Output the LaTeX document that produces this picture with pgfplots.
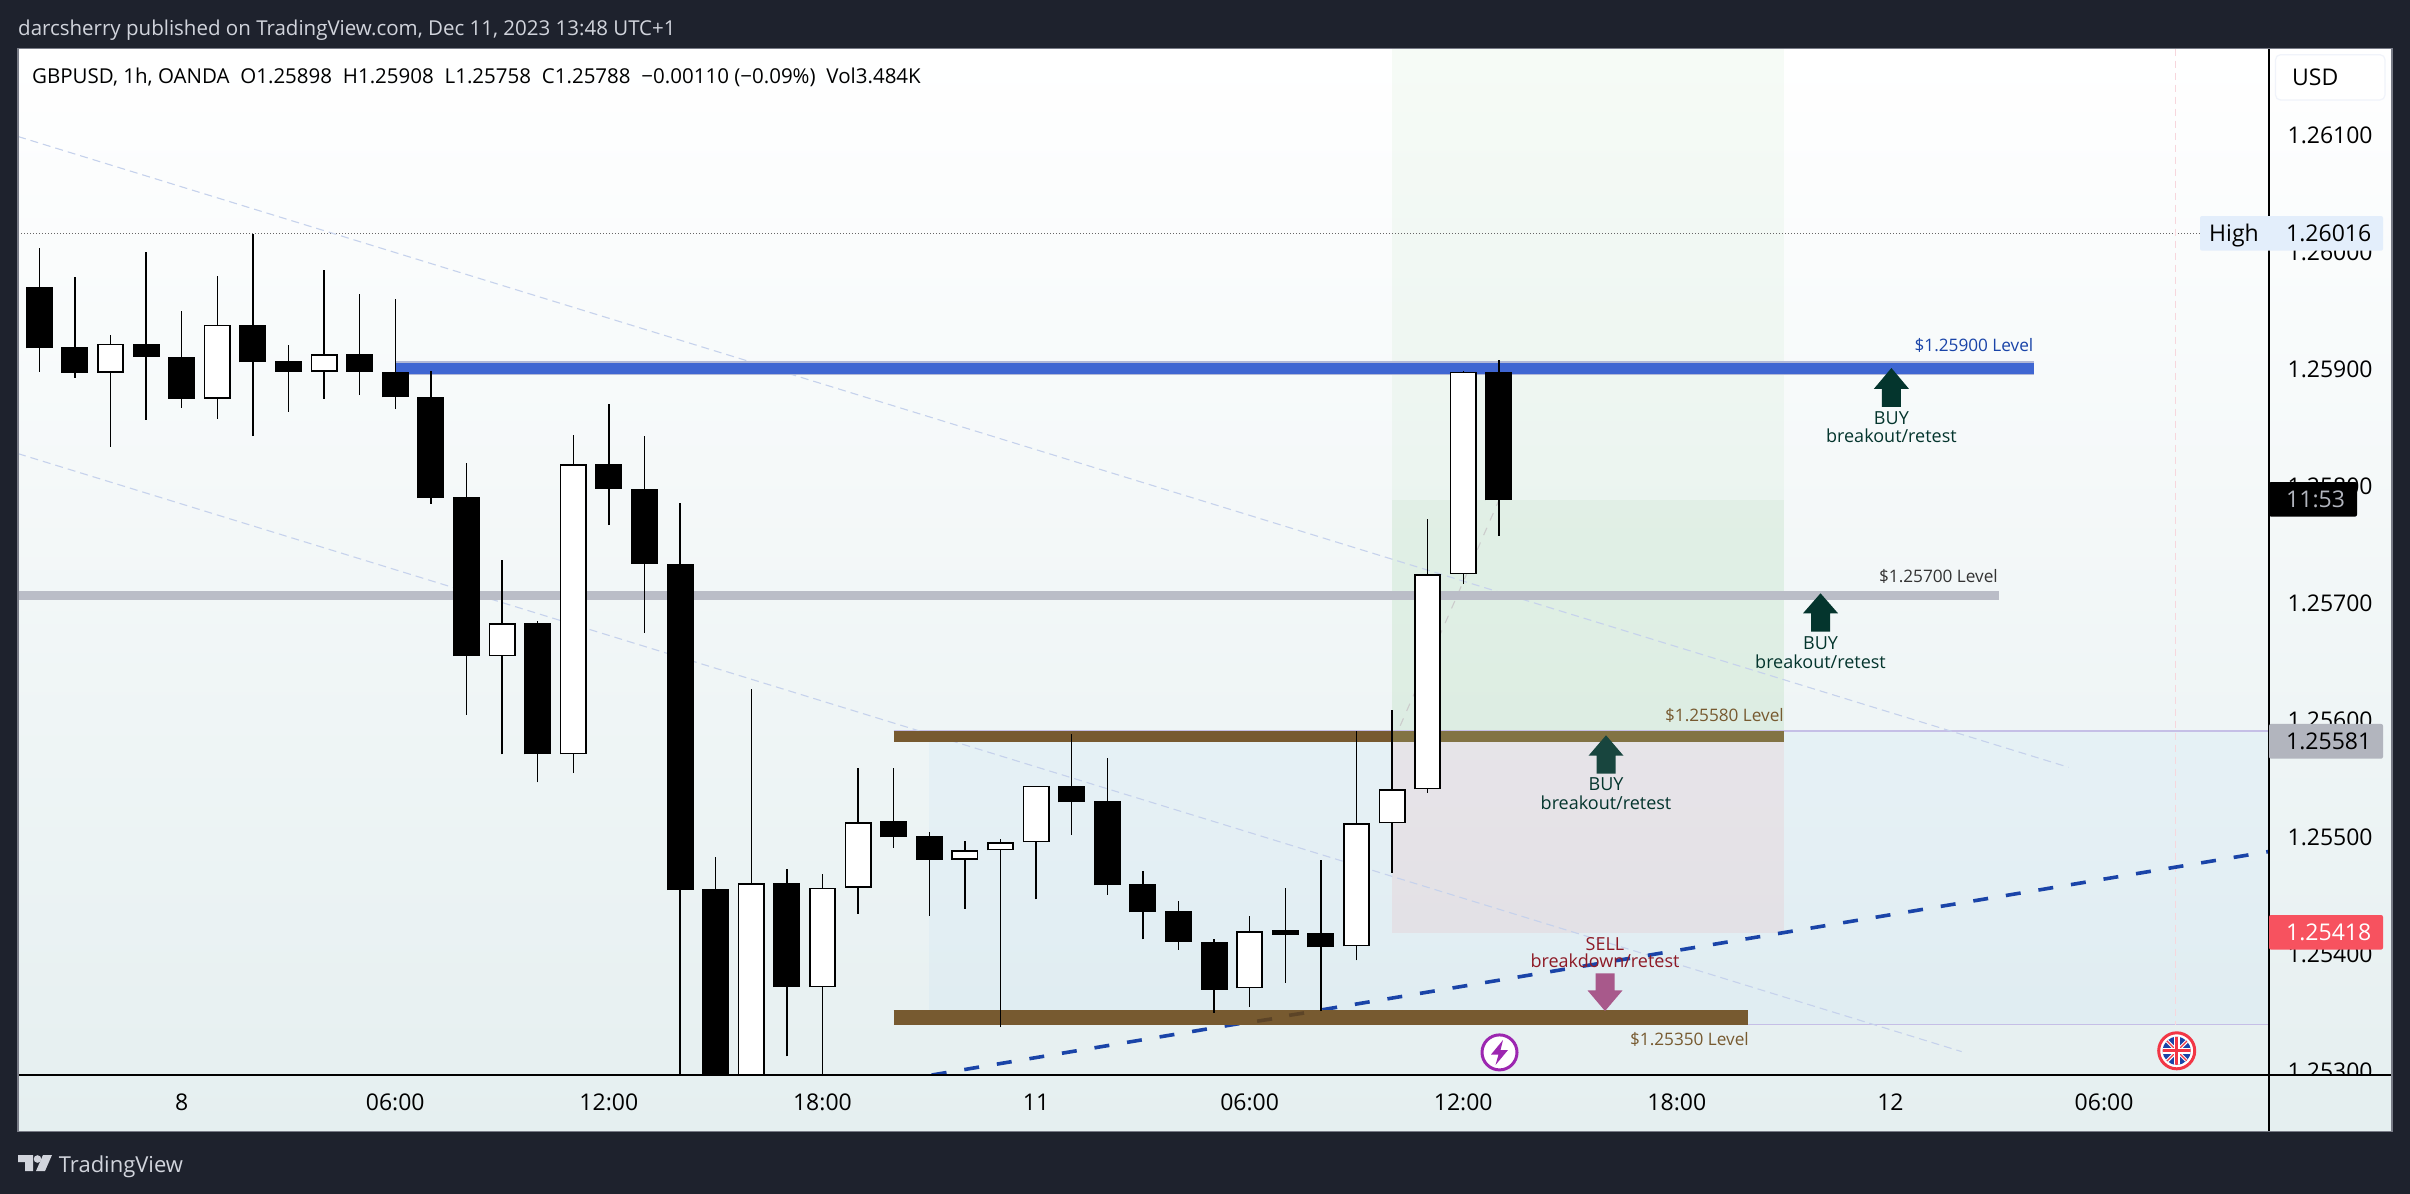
\documentclass[border=0pt]{standalone}
\usepackage{fontspec}
\setmainfont{Open Sans}
\usepackage{pgfplots}
\usepackage{pgfplotstable}
\pgfplotsset{compat=1.18}

\definecolor{darkbg}{HTML}{1E222D}
\definecolor{framec}{HTML}{787B86}
\definecolor{txtlight}{HTML}{D1D4DC}
\definecolor{bluelvl}{HTML}{3F66D2}
\definecolor{blueedge}{HTML}{B2B8D6}
\definecolor{greylvl}{HTML}{BABDC7}
\definecolor{brownlvl}{HTML}{775A30}
\definecolor{browndark}{HTML}{5C4427}
\definecolor{olivelvl}{HTML}{827344}
\definecolor{trend}{HTML}{C6D2EC}
\definecolor{dashblue}{HTML}{1A44A8}
\definecolor{buyc}{HTML}{04352D}
\definecolor{sellc}{HTML}{A8598B}
\definecolor{sellt}{HTML}{8E1A26}
\definecolor{purplec}{HTML}{9C27B0}
\definecolor{flagred}{HTML}{F23645}
\definecolor{flagblue}{HTML}{1A44A8}
\definecolor{bgbottom}{HTML}{E5EFF0}
\definecolor{rangeblue}{HTML}{2196FF}
\definecolor{rangeedge}{HTML}{C5BFE6}
\definecolor{eventline}{HTML}{F7D6DC}
\definecolor{usdedge}{HTML}{F0F3FA}
\definecolor{hightag}{HTML}{E3EEFB}
\definecolor{greytag}{HTML}{B2B5BE}
\definecolor{redtag}{HTML}{F7525F}

% bearish candles: hour index, open, high, low, close
\pgfplotstableread{
x o h l c
-4 1.25970 1.26004 1.25898 1.25918
-3 1.25919 1.25979 1.25893 1.25897
-1 1.25922 1.26000 1.25857 1.25911
0 1.25911 1.25950 1.25867 1.25875
2 1.25938 1.26016 1.25843 1.25906
3 1.25907 1.25921 1.25864 1.25898
5 1.25913 1.25964 1.25878 1.25898
6 1.25898 1.25960 1.25866 1.25876
7 1.25876 1.25899 1.25785 1.25790
8 1.25791 1.25820 1.25605 1.25655
10 1.25683 1.25685 1.25547 1.25571
12 1.25819 1.25870 1.25767 1.25798
13 1.25798 1.25843 1.25675 1.25734
14 1.25734 1.25786 1.25230 1.25455
15 1.25456 1.25483 1.25260 1.25280
17 1.25461 1.25473 1.25313 1.25372
20 1.25514 1.25559 1.25491 1.25500
21 1.25501 1.25505 1.25433 1.25481
25 1.25544 1.25588 1.25502 1.25530
26 1.25531 1.25568 1.25451 1.25459
27 1.25460 1.25471 1.25413 1.25436
28 1.25437 1.25446 1.25404 1.25411
29 1.25411 1.25413 1.25350 1.25370
31 1.25421 1.25457 1.25376 1.25417
32 1.25418 1.25481 1.25352 1.25406
37 1.25898 1.25908 1.25758 1.25788
}\bears

% bullish candles
\pgfplotstableread{
x o h l c
-2 1.25897 1.25929 1.25834 1.25922
1 1.25875 1.25980 1.25858 1.25938
4 1.25898 1.25985 1.25875 1.25913
9 1.25655 1.25737 1.25571 1.25683
11 1.25571 1.25844 1.25555 1.25819
16 1.25280 1.25627 1.25250 1.25461
18 1.25372 1.25469 1.25280 1.25457
19 1.25457 1.25559 1.25435 1.25513
22 1.25481 1.25497 1.25439 1.25489
23 1.25489 1.25499 1.25338 1.25496
24 1.25496 1.25544 1.25447 1.25544
30 1.25371 1.25433 1.25355 1.25420
33 1.25407 1.25591 1.25395 1.25512
34 1.25512 1.25609 1.25470 1.25541
35 1.25541 1.25772 1.25538 1.25725
36 1.25725 1.25899 1.25717 1.25898
}\bulls

\pgfplotsset{
  candlepart/.style 2 args={draw=none, mark=none, forget plot,
    error bars/.cd, y dir=plus, y explicit, error mark=none,
    error bar style={draw=#1, solid, line width=#2}},
  level/.style 2 args={draw=#1, line width=#2, forget plot, mark=none},
  zone/.style 2 args={draw=none, fill=#1, fill opacity=#2, forget plot, mark=none},
}

% text helpers, pixel coordinates
\newcommand\fs[1]{\fontsize{#1}{#1}\selectfont}
\newcommand\buyarrow[5]{% x, tip, head base, stem bottom, colour
  \fill[#5] (#1,#2) -- (#1+17.5,#3) -- (#1+9.5,#3) -- (#1+9.5,#4) -- (#1-9.5,#4) -- (#1-9.5,#3) -- (#1-17.5,#3) -- cycle;}

\begin{document}
\begin{tikzpicture}[x=1pt,y=-1pt]
\fill[darkbg] (0,0) rectangle (2410,1194);
\shade[top color=white, bottom color=bgbottom] (18,48.7) rectangle (2392,1131.5);

\begin{axis}[
  at={(18pt,-1075pt)}, anchor=south west,
  scale only axis, width=2251pt, height=1026.3pt,
  xmin=-4.596, xmax=58.635, ymin=1.25297, ymax=1.26174,
  axis line style={draw=none}, major tick length=0pt, tick style={draw=none},
  yticklabel pos=right,
  xtick={0,6,12,18,24,30,36,42,48,54},
  xticklabels={8,06:00,12:00,18:00,11,06:00,12:00,18:00,12,06:00},
  ytick={1.253,1.254,1.255,1.256,1.257,1.258,1.259,1.26,1.261},
  yticklabels={1.25300,1.25400,1.25500,1.25600,1.25700,1.25800,1.25900,1.26000,1.26100},
  xticklabel style={font=\fs{23}, anchor=base, yshift=-35pt},
  yticklabel style={font=\fs{23}, anchor=base west, xshift=15pt, yshift=-8pt},
  /pgf/number format/assume math mode=true,
]
% position zones
\addplot[zone={green!60!black}{0.035}] coordinates {(34,1.26174) (45,1.26174) (45,1.25788) (34,1.25788)} --cycle;
\addplot[zone={green!55!black}{0.075}] coordinates {(34,1.25788) (45,1.25788) (45,1.25591) (34,1.25591)} --cycle;
% range box
\addplot[zone={rangeblue}{0.04}] coordinates {(21,1.25591) (58.635,1.25591) (58.635,1.25340) (21,1.25340)} --cycle;
\addplot[zone={red}{0.05}] coordinates {(34,1.25591) (45,1.25591) (45,1.25418) (34,1.25418)} --cycle;
\addplot[level={rangeedge}{1.2pt}] coordinates {(20,1.25591) (58.635,1.25591)};
\addplot[level={rangeedge}{1.2pt}] coordinates {(20,1.25340) (58.635,1.25340)};
% high marker and vertical event line
\addplot[level={black!60}{1pt}, dotted] coordinates {(-4.596,1.26016) (58.635,1.26016)};
\addplot[level={eventline}{1.2pt}, dash pattern=on 7pt off 5pt] coordinates {(56,1.26174) (56,1.2534)};
% trend lines
\addplot[level={trend}{1.1pt}, dash pattern=on 8pt off 5pt] coordinates {(-4.596,1.26099) (53,1.25560)};
\addplot[level={trend}{1.1pt}, dash pattern=on 8pt off 5pt] coordinates {(-4.596,1.25828) (50,1.25317)};
\addplot[level={black!20}{1.1pt}, dash pattern=on 8pt off 8pt] coordinates {(34.05,1.25583) (37,1.25788)};
\addplot[level={dashblue}{3.6pt}, dash pattern=on 15pt off 18pt] coordinates {(21.07,1.25297) (58.635,1.25488)};
% levels
\addplot[level={blueedge}{13.5pt}] coordinates {(6,1.25901) (52.02,1.25901)};
\addplot[level={bluelvl}{11pt}] coordinates {(6,1.25901) (52.02,1.25901)};
\addplot[level={greylvl}{9pt}] coordinates {(-4.596,1.25707) (51.05,1.25707)};
\addplot[level={brownlvl}{11pt}] coordinates {(20,1.25586) (34,1.25586)};
\addplot[level={olivelvl}{11pt}] coordinates {(34,1.25586) (45,1.25586)};
\addplot[level={brownlvl}{15pt}] coordinates {(20,1.25346) (44,1.25346)};
\addplot[level={browndark}{3.6pt}] coordinates {(30.21,1.25343) (30.63,1.25345)};
\addplot[level={browndark}{3.6pt}] coordinates {(31.11,1.25348) (31.53,1.25350)};
% candles
\addplot[candlepart={black}{1.4pt}] table[x=x, y=l, y error plus expr=\thisrow{h}-\thisrow{l}] {\bears};
\addplot[candlepart={black}{1.4pt}] table[x=x, y=l, y error plus expr=\thisrow{h}-\thisrow{l}] {\bulls};
\addplot[candlepart={black}{27pt}] table[x=x, y=c, y error plus expr=\thisrow{o}-\thisrow{c}] {\bears};
\addplot[candlepart={black}{27pt}] table[x=x, y=o, y error plus expr=\thisrow{c}-\thisrow{o}] {\bulls};
\addplot[candlepart={white}{23.6pt}] table[x=x, y expr=\thisrow{o}+0.000013, y error plus expr=\thisrow{c}-\thisrow{o}-0.000026] {\bulls};
\end{axis}

% clipped lower scale corner and scale lines
\fill[bgbottom] (2270,1076) rectangle (2392,1131);
\draw[black, line width=1.5pt] (18,1075) -- (2392,1075);
\draw[black, line width=1.5pt] (2269,48.7) -- (2269,1131);
\draw[framec, line width=1.5pt] (18,48.7) rectangle (2392,1131.5);

% header and footer
\node[anchor=base west, inner sep=0pt, text=txtlight] at (18,35) {\fs{20.5}darcsherry published on TradingView.com, Dec 11, 2023 13:48 UTC+1};
\node[anchor=base west, inner sep=0pt, text=black] at (32,83) {\fs{20.5}GBPUSD, 1h, OANDA\hspace{10.8pt}O1.25898\hspace{10.8pt}H1.25908\hspace{10.8pt}L1.25758\hspace{10.8pt}C1.25788\hspace{10.8pt}−0.00110 (−0.09\%)\hspace{10.8pt}Vol3.484K};
\node[anchor=base west, inner sep=0pt, text=txtlight] at (58.7,1172) {\fs{22}TradingView};
\fill[txtlight] (18,1155) -- (33,1155) -- (33,1171) -- (25,1171) -- (25,1162) -- (18,1162) -- cycle;
\fill[txtlight] (37.5,1159) circle (3.8);
\fill[txtlight] (43,1155) -- (52,1155) -- (45,1171) -- (36,1171) -- cycle;

% price scale tags
\draw[usdedge, fill=white, line width=1.2pt, rounded corners=5pt] (2275.5,54.7) rectangle (2385,100);
\node[anchor=base west, inner sep=0pt] at (2292,85) {\fs{23}USD};
\fill[hightag, rounded corners=2pt] (2200,216) rectangle (2383,250.7);
\node[anchor=base west, inner sep=0pt] at (2209,241) {\fs{23}High};
\node[anchor=base west, inner sep=0pt] at (2286,241) {\fs{23}1.26016};
\fill[black, rounded corners=2pt] (2269,482) rectangle (2357,516.6);
\node[anchor=base west, inner sep=0pt, text=greytag] at (2286,507) {\fs{23}11:53};
\fill[greytag, rounded corners=2pt] (2269,723.9) rectangle (2383,758.7);
\node[anchor=base west, inner sep=0pt] at (2286,749) {\fs{23}1.25581};
\fill[redtag, rounded corners=2pt] (2269,915) rectangle (2383,949.6);
\node[anchor=base west, inner sep=0pt, text=white] at (2286,940) {\fs{23}1.25418};

% level captions
\node[anchor=base east, inner sep=0pt, text=dashblue] at (2033.5,351.5) {\fs{17.2}\$1.25900 Level};
\node[anchor=base east, inner sep=0pt, text=black!80] at (1998,582.5) {\fs{17.2}\$1.25700 Level};
\node[anchor=base east, inner sep=0pt, text=brownlvl] at (1784,721.5) {\fs{17.2}\$1.25580 Level};
\node[anchor=base east, inner sep=0pt, text=brownlvl] at (1749,1045) {\fs{17.2}\$1.25350 Level};

% arrows and their captions
\buyarrow{1891.4}{368}{388.8}{406.8}{buyc}
\node[anchor=base, inner sep=0pt, text=buyc] at (1891.4,424) {\fs{18}BUY};
\node[anchor=base, inner sep=0pt, text=buyc] at (1891.4,442) {\fs{18}breakout/retest};
\buyarrow{1820.5}{593.3}{613.3}{631.7}{buyc}
\node[anchor=base, inner sep=0pt, text=buyc] at (1820.5,649) {\fs{18}BUY};
\node[anchor=base, inner sep=0pt, text=buyc] at (1820.5,668) {\fs{18}breakout/retest};
\buyarrow{1606}{735.3}{755.7}{773.7}{buyc!92!white}
\node[anchor=base, inner sep=0pt, text=buyc] at (1606,790.5) {\fs{18}BUY};
\node[anchor=base, inner sep=0pt, text=buyc] at (1606,809) {\fs{18}breakout/retest};
\fill[sellc] (1605,1011) -- (1622.5,990.4) -- (1614.5,990.4) -- (1614.5,973.3) -- (1595.5,973.3) -- (1595.5,990.4) -- (1587.5,990.4) -- cycle;
\node[anchor=base, inner sep=0pt, text=sellt] at (1605,950) {\fs{18}SELL};
\node[anchor=base, inner sep=0pt, text=sellt] at (1605,967) {\fs{18}breakdown/retest};

% event icons
\draw[purplec, fill=white, line width=3pt] (1499.5,1052.4) circle (17.5);
\fill[purplec] (1503,1040) -- (1491,1054.5) -- (1498.5,1054.5) -- (1495.5,1065) -- (1508,1050) -- (1500.5,1050) -- cycle;
\begin{scope}
  \draw[flagred, fill=white, line width=3pt] (2176.7,1050.8) circle (18);
  \clip (2176.7,1050.8) circle (14);
  \fill[flagblue] (2162,1036) rectangle (2192,1066);
  \draw[white, line width=3.5pt] (2162,1036) -- (2192,1066) (2162,1066) -- (2192,1036);
  \draw[flagred, line width=1.3pt] (2162,1036) -- (2192,1066) (2162,1066) -- (2192,1036);
  \draw[white, line width=6pt] (2176.7,1036) -- (2176.7,1066) (2162,1050.8) -- (2192,1050.8);
  \draw[flagred, line width=3pt] (2176.7,1036) -- (2176.7,1066) (2162,1050.8) -- (2192,1050.8);
\end{scope}
\end{tikzpicture}
\end{document}
